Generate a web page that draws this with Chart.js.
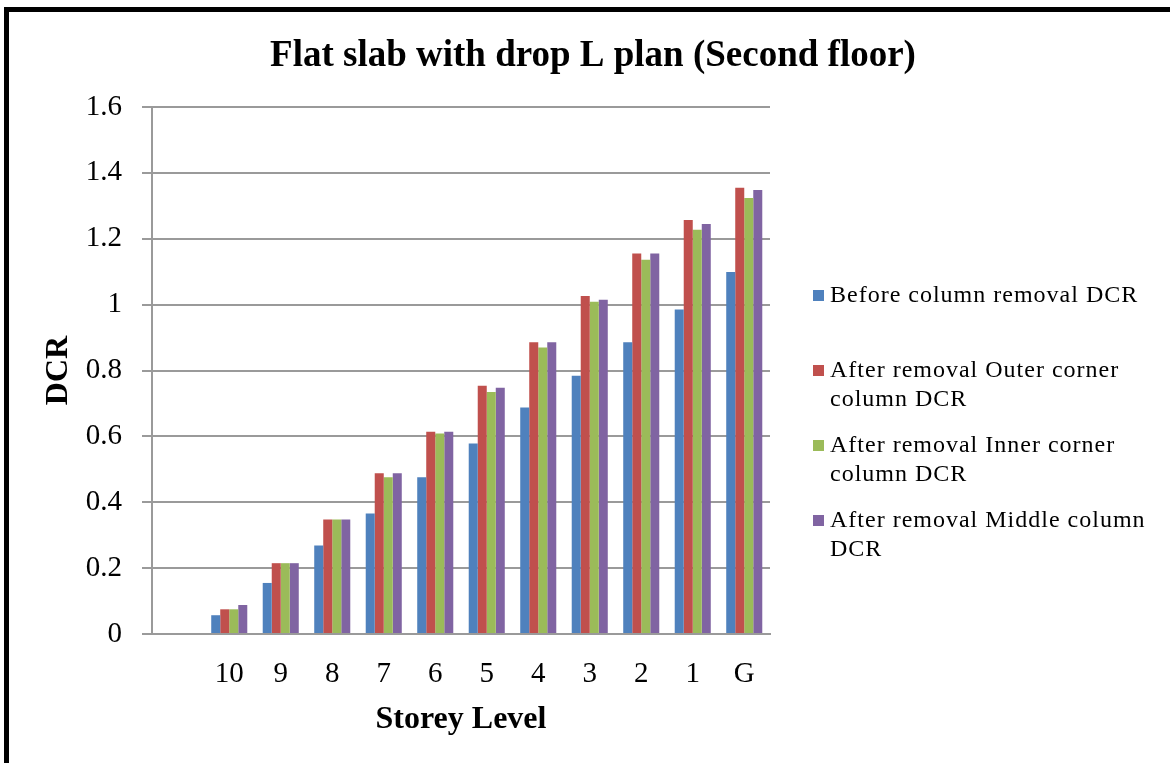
<!DOCTYPE html>
<html>
<head>
<meta charset="utf-8">
<title>Flat slab with drop L plan (Second floor)</title>
<script src="https://cdn.jsdelivr.net/npm/chart.js@4.4.1/dist/chart.umd.min.js"></script>
<style>
  html, body { margin: 0; padding: 0; background: #ffffff; overflow: hidden; }
  #wrap { position: relative; width: 1170px; height: 763px; }
  #frame {
    position: absolute; left: 4px; top: 7px; width: 1300px; height: 900px;
    border-top: 5px solid #000; border-left: 5px solid #000; box-sizing: border-box;
  }
  #chart { position: absolute; left: 0; top: 0; }
</style>
</head>
<body>
<div id="wrap">
  <div id="frame"></div>
  <canvas id="chart" width="1170" height="763"></canvas>
</div>
<script>
// Storey levels (first slot is left empty on the axis)
const storeys = ['', '10', '9', '8', '7', '6', '5', '4', '3', '2', '1', 'G'];

// Demand-capacity ratios per storey
const beforeRemoval = [null, 0.057, 0.155, 0.269, 0.366, 0.476, 0.578, 0.688, 0.784, 0.886, 0.985, 1.099];
const outerCornerRemoved = [null, 0.075, 0.215, 0.348, 0.488, 0.614, 0.754, 0.886, 1.026, 1.155, 1.257, 1.355];
const innerCornerRemoved = [null, 0.075, 0.215, 0.348, 0.476, 0.609, 0.735, 0.870, 1.009, 1.136, 1.227, 1.324];
const middleRemoved = [null, 0.088, 0.215, 0.348, 0.488, 0.614, 0.748, 0.886, 1.015, 1.155, 1.245, 1.348];

// Legend text, wrapped the way it is printed
const seriesNames = [
  ['Before column removal DCR'],
  ['After removal Outer corner', 'column DCR'],
  ['After removal Inner corner', 'column DCR'],
  ['After removal Middle column', 'DCR']
];

const chartTitle = 'Flat slab with drop L plan (Second floor)';
const serif = '"Liberation Serif", "Times New Roman", Times, serif';
const colors = ['#4F81BD', '#C0504D', '#9BBB59', '#8064A2'];
const seriesValues = [beforeRemoval, outerCornerRemoved, innerCornerRemoved, middleRemoved];

// Title and wrapped legend, painted on top of the chart
const decorations = {
  id: 'decorations',
  afterDraw(chart) {
    const ctx = chart.ctx;
    ctx.save();
    ctx.fillStyle = '#000';
    ctx.textAlign = 'center';
    ctx.textBaseline = 'middle';
    ctx.font = 'bold 37px ' + serif;
    ctx.fillText(chartTitle, 593, 56);

    const lineYs = [[296], [371, 400], [446, 475], [521, 550]];
    ctx.textAlign = 'left';
    ctx.font = '24px ' + serif;
    if ('letterSpacing' in ctx) ctx.letterSpacing = '1px';
    chart.data.datasets.forEach((ds, i) => {
      const ys = lineYs[i];
      ctx.fillStyle = ds.backgroundColor;
      ctx.fillRect(813, ys[0] - 6, 11, 11);
      ctx.fillStyle = '#000';
      seriesNames[i].forEach((line, j) => ctx.fillText(line, 830, ys[j]));
    });
    ctx.restore();
  }
};

new Chart(document.getElementById('chart'), {
  type: 'bar',
  data: {
    labels: storeys,
    datasets: seriesValues.map((vals, i) => ({
      label: seriesNames[i].join(' '),
      data: vals,
      backgroundColor: colors[i],
      borderWidth: 0,
      categoryPercentage: 0.7,
      barPercentage: 1.0
    }))
  },
  options: {
    responsive: false,
    animation: false,
    layout: { padding: { left: 0, right: 400, top: 107, bottom: 0 } },
    plugins: {
      legend: { display: false },
      title: { display: false },
      tooltip: { enabled: false }
    },
    scales: {
      x: {
        grid: { display: false },
        border: { display: true, color: '#9a9a9a', width: 2 },
        ticks: { color: '#000', font: { family: serif, size: 29 }, padding: 15, maxRotation: 0, autoSkip: false },
        title: { display: true, text: 'Storey Level', color: '#000', font: { family: serif, size: 32, weight: 'bold' }, padding: { top: 0, bottom: 24 } },
        afterFit(scale) { scale.height = 129; }
      },
      y: {
        min: 0,
        max: 1.6,
        grid: { color: '#9a9a9a', lineWidth: 2, drawTicks: true, tickLength: 10, tickColor: '#9a9a9a' },
        border: { display: true, color: '#9a9a9a', width: 2 },
        ticks: {
          stepSize: 0.2, color: '#000', padding: 20,
          font: { family: serif, size: 29 },
          callback: v => String(+v.toFixed(1))
        },
        title: { display: true, text: 'DCR', color: '#000', font: { family: serif, size: 32, weight: 'bold' }, padding: { top: 40, bottom: 0 } },
        afterFit(scale) { scale.width = 152; }
      }
    }
  },
  plugins: [decorations]
});
</script>
</body>
</html>
